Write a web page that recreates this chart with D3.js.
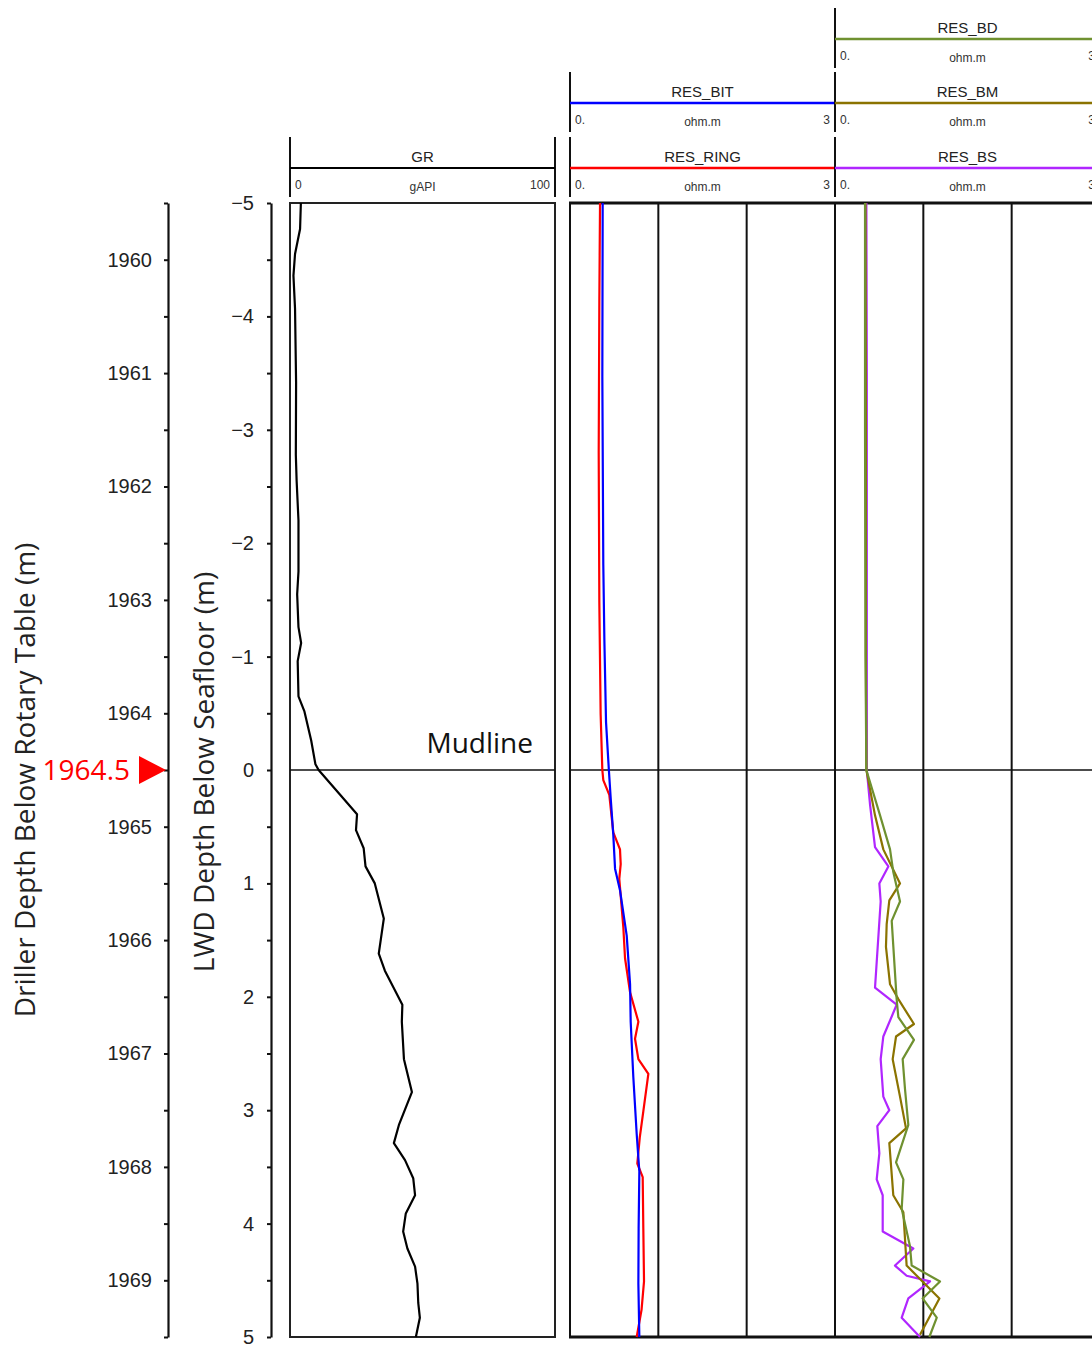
<!DOCTYPE html>
<html>
<head>
<meta charset="utf-8">
<script src="https://cdn.jsdelivr.net/npm/d3@7"></script>
<style>
body { margin: 0; background: #fff; }
svg { display: block; font-family: "Liberation Sans", Arial, sans-serif; }
</style>
</head>
<body>
<svg id="chart" width="1092" height="1346"></svg>
<script>
// depth of the mudline on the driller scale (m)
const mudlineDriller = 1964.5;

// GR (gAPI) vs LWD depth below seafloor (m)
const grDepth = [-5, -4.77, -4.55, -4.36, -4.07, -3.42, -2.78, -2.55, -2.2, -1.75, -1.55, -1.26, -1.12, -0.96, -0.65, -0.52, -0.26, -0.05, 0,
  0.22, 0.39, 0.53, 0.69, 0.85, 1.0, 1.31, 1.62, 1.77, 2.07, 2.22, 2.55, 2.84, 3.13, 3.29, 3.44, 3.6, 3.75, 3.91, 4.07, 4.22, 4.38, 4.53, 4.7, 4.83, 5];
const grValue = [4.1, 3.8, 1.9, 1.3, 1.9, 2.3, 2.2, 2.5, 3.2, 3.2, 2.7, 3.2, 4.2, 2.9, 3.2, 5.4, 8.0, 9.6, 10.8,
  19, 25.3, 24.9, 27.8, 28.5, 32, 35.4, 33.5, 35.8, 42.4, 42.2, 43, 46, 41.1, 39.2, 43.4, 46.5, 47.2, 43.7, 42.7, 44.3, 47.2, 48.1, 48.4, 49, 47.5];

// resistivity curves (ohm.m)
const ringDepth = [-5, -4.13, -2.8, -1.48, -0.49, 0, 0.09, 0.22, 0.55, 0.70, 0.83, 0.96, 1.39, 1.66, 1.96, 2.22, 2.37, 2.55, 2.68, 3.01, 3.24, 3.47, 3.59, 4.04, 4.51, 4.76, 5];
const ringValue = [0.34, 0.332, 0.325, 0.332, 0.347, 0.366, 0.377, 0.445, 0.49, 0.566, 0.574, 0.558, 0.604, 0.623, 0.68, 0.774, 0.736, 0.774, 0.887, 0.83, 0.79, 0.762, 0.823, 0.83, 0.838, 0.81, 0.755];

const bitDepth = [-5, -3.47, -1.81, -1.15, -0.42, 0, 0.24, 0.57, 0.87, 1.06, 1.46, 1.89, 2.22, 2.71, 3.21, 3.54, 4.04, 4.53, 5];
const bitValue = [0.37, 0.366, 0.377, 0.389, 0.408, 0.44, 0.46, 0.49, 0.51, 0.566, 0.642, 0.68, 0.687, 0.717, 0.755, 0.785, 0.777, 0.774, 0.785];

const bsDepth = [-5, -3.5, -2, -0.8, 0, 0.30, 0.68, 0.85, 1.0, 1.16, 1.92, 2.07, 2.35, 2.55, 2.88, 3.0, 3.14, 3.38, 3.61, 3.75, 4.07, 4.22, 4.37, 4.46, 4.51, 4.66, 4.83, 5.0];
const bsValue = [0.355, 0.36, 0.36, 0.36, 0.36, 0.396, 0.453, 0.604, 0.502, 0.517, 0.453, 0.698, 0.547, 0.517, 0.547, 0.615, 0.479, 0.502, 0.472, 0.54, 0.54, 0.887, 0.679, 0.811, 1.076, 0.83, 0.755, 0.962];

const bmDepth = [-5, -3, -1, 0, 0.4, 0.70, 1.0, 1.15, 1.36, 1.56, 1.89, 2.02, 2.24, 2.35, 2.55, 2.88, 3.16, 3.29, 3.75, 3.90, 4.37, 4.66, 4.98];
const bmValue = [0.345, 0.35, 0.35, 0.355, 0.453, 0.547, 0.736, 0.615, 0.585, 0.577, 0.623, 0.717, 0.894, 0.691, 0.653, 0.736, 0.804, 0.615, 0.66, 0.774, 0.811, 1.182, 0.962];

const bdDepth = [-5, -3, -1, 0, 0.4, 0.70, 0.90, 1.16, 1.33, 2.02, 2.18, 2.38, 2.55, 2.81, 3.13, 3.46, 3.61, 3.87, 4.20, 4.37, 4.51, 4.66, 4.83, 5.0];
const bdValue = [0.34, 0.34, 0.345, 0.355, 0.51, 0.623, 0.66, 0.736, 0.642, 0.698, 0.717, 0.894, 0.766, 0.792, 0.83, 0.691, 0.774, 0.755, 0.849, 0.868, 1.189, 0.992, 1.152, 1.068];

// header labels
const curveNames = ["GR", "RES_RING", "RES_BIT", "RES_BS", "RES_BM", "RES_BD"];
const curveUnits = ["gAPI", "ohm.m", "ohm.m", "ohm.m", "ohm.m", "ohm.m"];
const curveLo = ["0", "0.", "0.", "0.", "0.", "0."];
const curveHi = ["100", "3", "3", "3", "3", "3"];

const svg = d3.select("#chart");

const trackTop = 203, trackBottom = 1337;
const y = d3.scaleLinear().domain([-5, 5]).range([trackTop, trackBottom]);
const yDrill = d3.scaleLinear().domain([mudlineDriller - 5, mudlineDriller + 5]).range([trackTop, trackBottom]);

// track scales
const xGR = d3.scaleLinear().domain([0, 100]).range([290, 555]);
const xRes1 = d3.scaleLinear().domain([0, 3]).range([570, 835]);
const xRes2 = d3.scaleLinear().domain([0, 3]).range([835, 1100]);

const curves = [
  { track: xGR, row: 0, depth: grDepth, value: grValue, color: "#000" },
  { track: xRes1, row: 0, depth: ringDepth, value: ringValue, color: "#ff0000" },
  { track: xRes1, row: 1, depth: bitDepth, value: bitValue, color: "#0000ff" },
  { track: xRes2, row: 0, depth: bsDepth, value: bsValue, color: "#b026ff" },
  { track: xRes2, row: 1, depth: bmDepth, value: bmValue, color: "#8b7300" },
  { track: xRes2, row: 2, depth: bdDepth, value: bdValue, color: "#6f9130" }
];
curves.forEach((c, i) => {
  c.name = curveNames[i]; c.unit = curveUnits[i]; c.lo = curveLo[i]; c.hi = curveHi[i];
});
const rowLineY = [168, 103, 39];

// ---- left depth axes
function styleAxis(g) {
  g.select(".domain").attr("stroke", "#111").attr("stroke-width", 2.2);
  g.selectAll(".tick line").attr("stroke", "#111").attr("stroke-width", 2);
  g.selectAll(".tick text").attr("font-size", 20).attr("fill", "#222")
    .attr("font-family", '"Liberation Sans", Arial, sans-serif');
}

const drillAxis = d3.axisLeft(yDrill)
  .tickValues(d3.range(mudlineDriller - 5, mudlineDriller + 5.01, 0.5))
  .tickSize(4).tickSizeOuter(0).tickPadding(12)
  .tickFormat(d => Number.isInteger(d) ? d3.format("d")(d) : "");
svg.append("g").attr("transform", "translate(168,0)").call(drillAxis).call(styleAxis);

const lwdAxis = d3.axisLeft(y)
  .tickValues(d3.range(-5, 5.01, 0.5))
  .tickSize(4).tickSizeOuter(0).tickPadding(13)
  .tickFormat(d => Number.isInteger(d) ? d3.format("d")(d) : "");
svg.append("g").attr("transform", "translate(271,0)").call(lwdAxis).call(styleAxis);

svg.append("text")
  .attr("transform", `translate(35,${(trackTop + trackBottom) / 2 + 10}) rotate(-90)`)
  .attr("text-anchor", "middle")
  .attr("font-family", '"Open Sans", sans-serif').attr("font-size", 28).attr("fill", "#222")
  .text("Driller Depth Below Rotary Table (m)");

svg.append("text")
  .attr("transform", `translate(214,${(trackTop + trackBottom) / 2 + 2}) rotate(-90)`)
  .attr("text-anchor", "middle")
  .attr("font-family", '"Open Sans", sans-serif').attr("font-size", 28).attr("fill", "#222")
  .text("LWD Depth Below Seafloor (m)");

// mudline marker on driller axis
const ym = yDrill(mudlineDriller);
svg.append("text")
  .attr("x", 130).attr("y", ym)
  .attr("dy", "0.35em")
  .attr("text-anchor", "end")
  .attr("font-family", '"Open Sans", sans-serif').attr("font-size", 28).attr("fill", "#ff0000")
  .text(d3.format(".1f")(mudlineDriller));
svg.append("path")
  .attr("d", `M166,${ym} L139,${ym - 14} L139,${ym + 14} Z`)
  .attr("fill", "#ff0000");

// ---- track frames
svg.append("rect")
  .attr("x", xGR.range()[0]).attr("y", trackTop)
  .attr("width", xGR.range()[1] - xGR.range()[0]).attr("height", trackBottom - trackTop)
  .attr("fill", "none").attr("stroke", "#222").attr("stroke-width", 2);

const grid = svg.append("g").attr("stroke", "#111").attr("stroke-width", 2);
[[xRes1, [0, 1, 2, 3]], [xRes2, [1, 2, 3]]].forEach(([sx, vals]) => {
  grid.selectAll(null).data(vals).join("line")
    .attr("x1", d => sx(d)).attr("x2", d => sx(d))
    .attr("y1", trackTop).attr("y2", trackBottom);
});
[trackTop, trackBottom].forEach(yy => {
  svg.append("line")
    .attr("x1", xRes1(0) - 1).attr("x2", xRes2(3)).attr("y1", yy).attr("y2", yy)
    .attr("stroke", "#111").attr("stroke-width", 3);
});

// mudline
const mud = svg.append("g").attr("stroke", "#111").attr("stroke-width", 1.6);
mud.append("line").attr("x1", xGR(0)).attr("x2", xGR(100)).attr("y1", y(0)).attr("y2", y(0));
mud.append("line").attr("x1", xRes1(0)).attr("x2", xRes2(3)).attr("y1", y(0)).attr("y2", y(0));
svg.append("text")
  .attr("x", 533).attr("y", y(0) - 17)
  .attr("text-anchor", "end")
  .attr("font-family", '"Open Sans", sans-serif').attr("font-size", 28).attr("fill", "#111")
  .text("Mudline");

// ---- curves
curves.forEach(c => {
  const pts = c.depth.map((d, i) => [d, c.value[i]]);
  const line = d3.line().x(p => c.track(p[1])).y(p => y(p[0]));
  svg.append("path")
    .datum(pts)
    .attr("d", line)
    .attr("fill", "none")
    .attr("stroke", c.color)
    .attr("stroke-width", 2.2)
    .attr("stroke-linejoin", "round");
});

// ---- headers
curves.forEach(c => {
  const [x0, x1] = c.track.range();
  const ly = rowLineY[c.row];
  const h = svg.append("g");
  [x0, x1].forEach(xx => {
    h.append("line").attr("x1", xx).attr("x2", xx).attr("y1", ly - 31).attr("y2", ly + 29)
      .attr("stroke", "#111").attr("stroke-width", 2);
  });
  h.append("line").attr("x1", x0).attr("x2", x1).attr("y1", ly).attr("y2", ly)
    .attr("stroke", c.color).attr("stroke-width", c.name === "GR" ? 2 : 2.5);
  h.append("text").attr("x", (x0 + x1) / 2).attr("y", ly - 6)
    .attr("text-anchor", "middle").attr("font-size", 15).attr("fill", "#222").text(c.name);
  h.append("text").attr("x", x0 + 5).attr("y", ly + 21)
    .attr("font-size", 12).attr("fill", "#333").text(c.lo);
  h.append("text").attr("x", (x0 + x1) / 2).attr("y", ly + 23)
    .attr("text-anchor", "middle").attr("font-size", 12).attr("fill", "#333").text(c.unit);
  h.append("text").attr("x", x1 - 5).attr("y", ly + 21)
    .attr("text-anchor", "end").attr("font-size", 12).attr("fill", "#333").text(c.hi);
});
</script>
</body>
</html>
